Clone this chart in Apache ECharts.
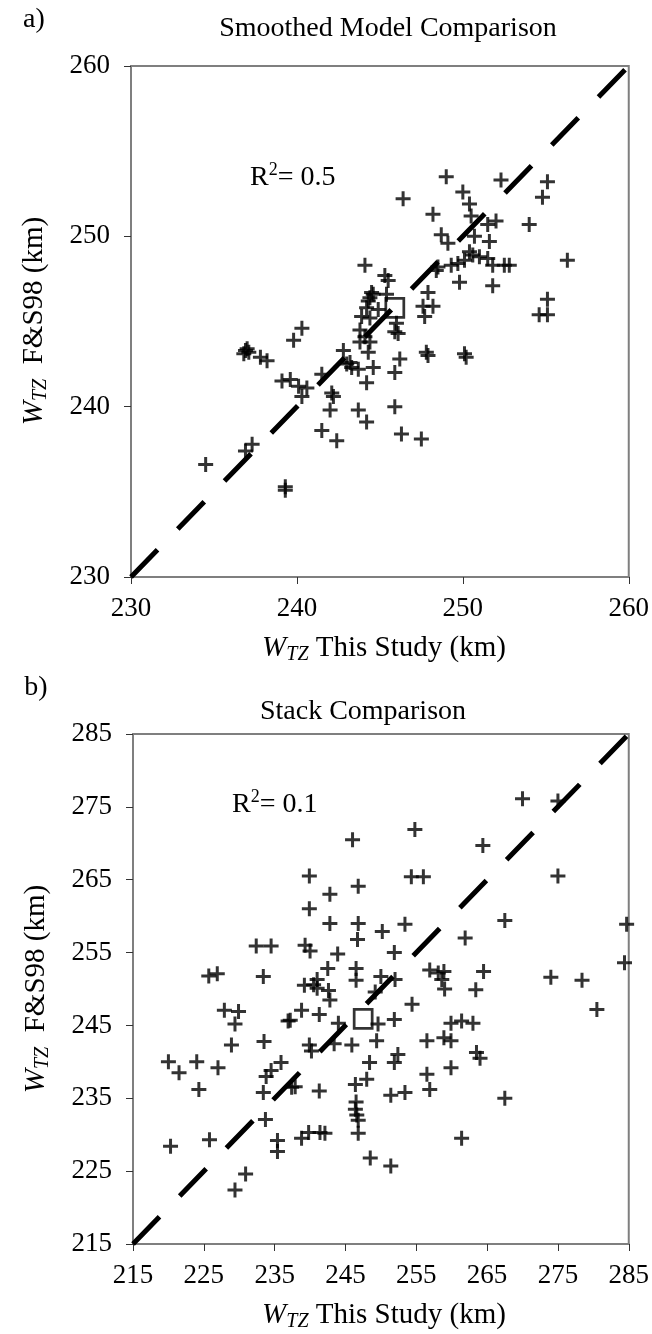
<!DOCTYPE html>
<html><head><meta charset="utf-8">
<script src="https://cdn.jsdelivr.net/npm/echarts@6/dist/echarts.min.js"></script>
<style>html,body{margin:0;padding:0;background:#fff}#c{width:652px;height:1334px}</style>
</head><body><div id="c"></div>
<script>
// ---- Panel a: Smoothed Model Comparison ----
const smoothX = [249.0,252.3,255.1,246.4,250.0,250.4,254.8,248.2,250.5,252.0,
251.5,254.0,248.7,249.1,250.7,251.6,250.4,250.6,251.0,250.1,
249.7,249.3,251.5,251.8,252.5,252.8,256.3,248.5,248.4,249.8,
251.8,244.1,245.3,245.5,247.9,247.6,248.2,247.7,255.1,254.6,
255.1,244.6,244.4,245.4,244.2,244.9,243.9,244.4,246.0,245.9,
246.1,243.8,244.1,243.8,244.4,244.3,242.8,243.0,243.3,243.7,
244.6,244.2,241.5,246.2,245.9,247.8,250.1,236.9,237.1,237.8,
238.2,240.3,239.8,239.1,239.6,240.1,240.6,240.3,242.1,242.2,
242.0,243.7,245.9,244.2,241.5,242.4,246.3,247.5,237.3,236.9,
234.5,239.3,239.3,236.8,237.0,244.5,244.3,243.2,250.2,247.9];
const smoothY = [253.5,253.3,253.2,252.2,252.6,251.9,252.3,251.3,251.2,250.9,
250.7,250.7,250.1,249.6,250.0,249.7,249.1,248.9,248.8,248.6,
248.4,248.3,248.7,248.3,248.3,248.3,248.6,248.2,248.0,247.3,
247.1,248.3,247.7,247.4,246.7,245.9,245.9,245.3,246.3,245.4,
245.4,246.6,246.4,246.6,245.8,245.7,245.3,245.2,244.9,244.4,
244.3,244.5,244.1,243.8,243.8,243.2,243.3,242.5,242.3,242.2,
242.3,241.4,241.9,242.8,242.0,243.2,243.1,243.3,243.2,242.9,
242.7,244.6,243.9,241.5,241.6,241.2,241.1,240.6,240.8,240.6,
239.8,239.8,240.0,239.1,238.6,238.0,238.4,238.1,237.8,237.4,
236.6,235.3,235.1,243.1,243.4,246.7,246.2,242.6,242.9,243.0];
const smoothMean = [245.9, 245.8];
const smoothLine = [230, 260];
const smoothTicks = {min: 230, max: 260, step: 10};
const smoothR2 = '0.5';

// ---- Panel b: Stack Comparison ----
const stackX = [270.0,275.0,254.8,246.0,264.4,239.9,254.3,256.0,275.0,246.8,
242.8,239.9,242.8,246.8,253.4,267.5,250.2,261.9,246.7,284.7,
232.4,234.5,239.3,240.0,243.9,251.9,284.4,225.7,226.9,233.4,
242.5,241.0,246.5,246.5,250.0,252.0,256.9,258.1,258.9,258.6,
264.5,274.0,278.4,239.2,240.5,241.0,242.6,242.8,249.2,259.0,
263.4,254.4,280.5,227.9,229.9,229.4,238.8,241.3,236.9,237.2,
244.0,249.6,251.9,259.9,261.4,263.0,228.9,233.5,239.9,240.2,
243.4,245.9,249.4,256.5,258.9,259.9,263.5,264.0,220.0,221.5,
224.0,227.0,235.9,234.5,233.8,248.4,252.4,251.9,259.9,256.5,
248.0,246.4,224.3,233.4,237.4,237.9,241.3,251.4,253.4,256.9,
267.5,246.5,246.4,246.6,246.8,246.8,233.7,220.3,225.8,235.4,
235.4,238.8,239.8,241.4,242.1,261.4,248.5,251.4,230.9,229.4];
const stackY = [276.1,275.8,271.9,270.5,269.7,265.5,265.4,265.4,265.5,264.1,
263.0,261.0,259.0,259.0,258.9,259.4,257.9,257.0,256.8,258.9,
255.9,255.9,256.0,255.2,254.8,255.0,253.6,251.8,252.1,251.7,
252.8,251.3,252.8,251.2,251.7,251.3,252.6,252.2,252.4,251.3,
252.4,251.6,251.2,250.5,250.6,250.1,249.8,248.5,249.6,250.0,
249.9,247.9,247.2,247.1,246.9,245.2,247.1,246.5,245.6,245.7,
245.3,245.2,245.8,245.3,245.6,245.3,242.3,242.8,242.3,241.5,
242.5,242.3,242.9,242.9,243.3,242.9,241.3,240.5,240.0,238.5,
240.0,239.2,239.9,238.8,238.0,239.9,241.0,239.9,239.2,238.3,
237.6,236.9,236.2,235.8,236.5,236.6,236.0,235.4,235.8,236.2,
235.0,234.5,233.5,232.7,232.0,230.2,232.1,228.4,229.3,229.2,
227.7,229.5,230.3,230.3,230.2,229.5,226.8,225.7,224.6,222.4];
const stackMean = [247.5, 245.9];
const stackLine = [215, 285];
const stackTicks = {min: 215, max: 285, step: 10};
const stackR2 = '0.1';

const panelLabels = ['a)', 'b)'];
const panelTitles = ['Smoothed Model Comparison', 'Stack Comparison'];
const xName = 'This Study (km)';
const yName = 'F&S98 (km)';
const subName = 'TZ';

// ---- styling ----
const FONT = '"Liberation Serif","Times New Roman",serif';
const PLUS = 'path://M4,0H6V4H10V6H6V10H4V6H0V4H4Z';
const frameColor = '#7f7f7f';

function pairs(xs, ys){ return xs.map((x,i)=>[x, ys[i]]); }

function axis(t, idx, isX){
  return {
    type:'value', gridIndex: idx, min: t.min, max: t.max, interval: t.step,
    axisLine:{show:true, onZero:false, lineStyle:{color:frameColor, width:2}},
    axisTick:{show:true, inside:false, length:7, lineStyle:{color:'#333', width:1}},
    splitLine:{show:false},
    axisLabel:{fontFamily:FONT, fontSize:27, color:'#000', margin: isX ? 18 : 21}
  };
}

const rich = {
  w:{fontFamily:FONT, fontSize:29, fontStyle:'italic', lineHeight:34, fill:'#000', color:'#000'},
  s:{fontFamily:FONT, fontSize:20, fontStyle:'italic', lineHeight:20, verticalAlign:'bottom', fill:'#000', color:'#000'},
  n:{fontFamily:FONT, fontSize:29, lineHeight:34, fill:'#000', color:'#000'},
  r:{fontFamily:FONT, fontSize:28, lineHeight:34, fill:'#000', color:'#000'},
  p:{fontFamily:FONT, fontSize:18, lineHeight:18, verticalAlign:'top', fill:'#000', color:'#000'}
};

function txt(x, y, text, opts){
  return Object.assign({type:'text', x:x, y:y, style:Object.assign({text:text, fontFamily:FONT, fontSize:28, fill:'#000', align:'center', verticalAlign:'middle', rich:rich}, opts||{})});
}

const grids = [
  {left:131, top:66, width:499, height:511, show:true, borderColor:frameColor, borderWidth:2},
  {left:133, top:734, width:499, height:510, show:true, borderColor:frameColor, borderWidth:2}
];

function panelSeries(idx, xs, ys, mean, line){
  return [
    {type:'line', xAxisIndex:idx, yAxisIndex:idx, data:[[line[0],line[0]],[line[1],line[1]]],
     symbol:'none', lineStyle:{color:'#000', width:5, type:[38,29], cap:'butt'}, silent:true, z:2},
    {type:'scatter', xAxisIndex:idx, yAxisIndex:idx, data:pairs(xs, ys), symbol:PLUS, symbolSize:15,
     itemStyle:{color:'#000'}, silent:true, z:3},
    {type:'scatter', xAxisIndex:idx, yAxisIndex:idx, data:[mean], symbol:'rect', symbolSize:[18,19],
     itemStyle:{color:'rgba(0,0,0,0)', borderColor:'#000', borderWidth:2.8}, silent:true, z:4}
  ];
}

const chart = echarts.init(document.getElementById('c'), null, {renderer:'canvas'});
chart.setOption({
  animation:false,
  backgroundColor:'#fff',
  grid: grids,
  xAxis:[axis(smoothTicks,0,true), axis(stackTicks,1,true)],
  yAxis:[axis(smoothTicks,0,false), axis(stackTicks,1,false)],
  series:[].concat(panelSeries(0, smoothX, smoothY, smoothMean, smoothLine),
                   panelSeries(1, stackX, stackY, stackMean, stackLine)),
  graphic:[
    txt(34, 20, panelLabels[0]),
    txt(388, 29, panelTitles[0]),
    txt(36, 688, panelLabels[1]),
    txt(363, 712, panelTitles[1]),
    txt(250, 178, '{r|R}{p|2}{r|= ' + smoothR2 + '}', {align:'left'}),
    txt(232, 805, '{r|R}{p|2}{r|= ' + stackR2 + '}', {align:'left'}),
    txt(384, 648, '{w|W}{s|' + subName + '}{n| ' + xName + '}'),
    txt(384, 1315, '{w|W}{s|' + subName + '}{n| ' + xName + '}'),
    Object.assign(txt(34, 321, '{w|W}{s|' + subName + '}{n|  ' + yName + '}'), {rotation: Math.PI/2}),
    Object.assign(txt(36, 989, '{w|W}{s|' + subName + '}{n|  ' + yName + '}'), {rotation: Math.PI/2})
  ]
});
</script></body></html>
